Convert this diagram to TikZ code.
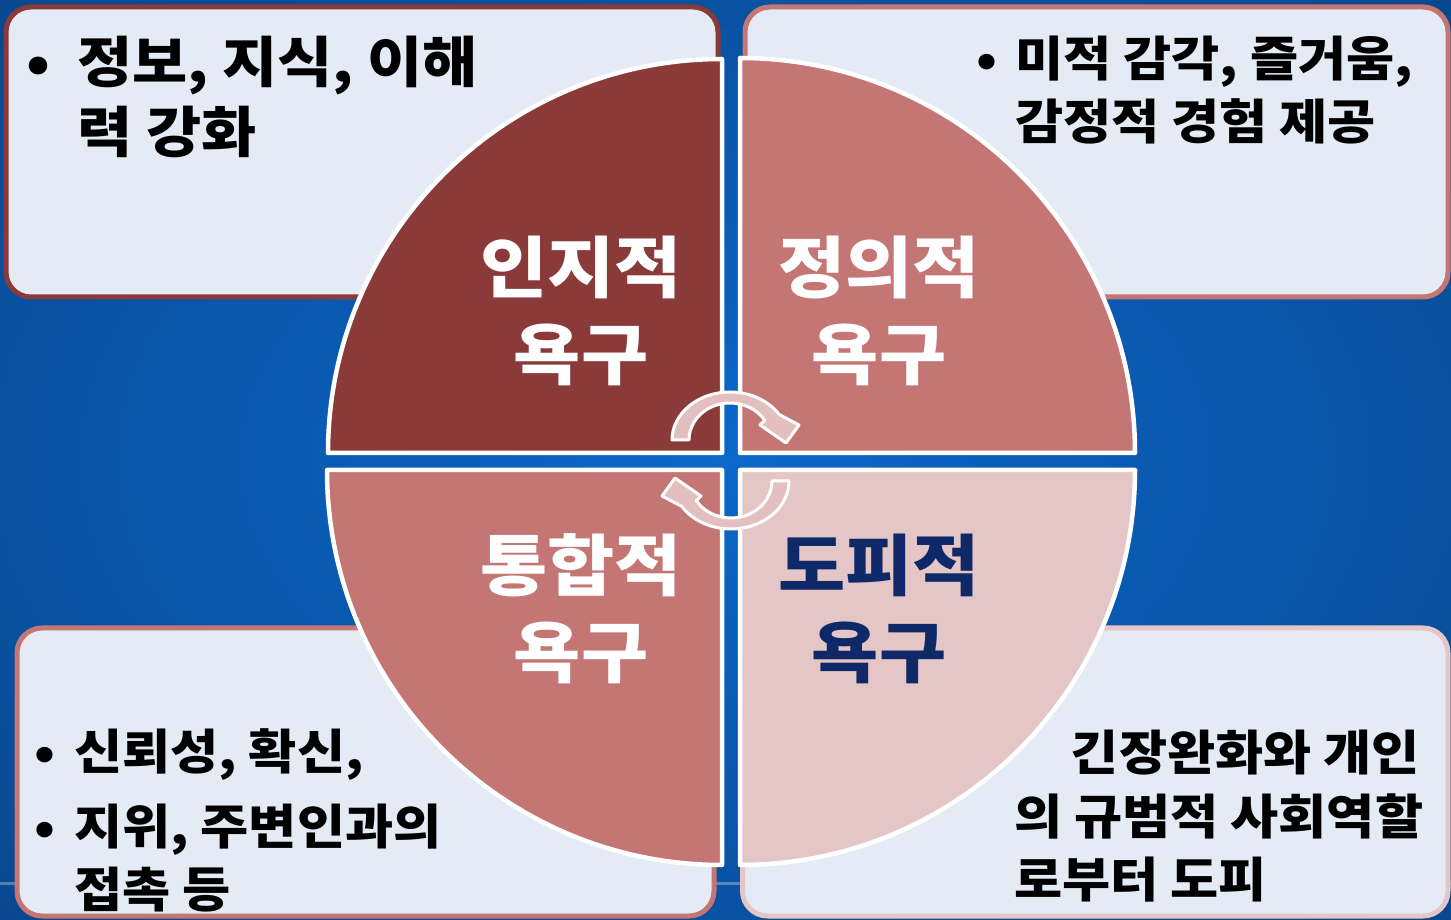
\documentclass[tikz,border=0pt]{standalone}
\usepackage{fontspec}
\setmainfont{Noto Sans CJK KR}[FakeStretch=1.09, BoldFeatures={FakeStretch=1.09}]
\definecolor{bgin}{HTML}{0B67CA}
\definecolor{bgout}{HTML}{073B78}
\definecolor{boxfill}{HTML}{E4EBF4}
\definecolor{qdark}{HTML}{8B3A3A}
\definecolor{qmid}{HTML}{C47674}
\definecolor{qlight}{HTML}{E5C6C6}
\definecolor{qnavy}{HTML}{0E2868}
\definecolor{arrowfill}{HTML}{E3BFBF}
\pgfdeclareradialshading{bgshade}{\pgfpoint{0bp}{0bp}}{color(0bp)=(bgin); color(50bp)=(bgout)}
\begin{document}
\begin{tikzpicture}[x=1pt,y=1pt,
  infobox/.style={fill=boxfill, line width=5pt, rounded corners=25pt},
  quarter/.style={draw=white, line width=4.5pt, line join=round},
  qlabel/.style={font=\fontsize{67}{80}\selectfont\bfseries, anchor=base, inner sep=0pt},
  bodytext/.style={font=\fontsize{48}{58}\selectfont\bfseries, anchor=base west, inner sep=0pt, text=black},
  bigbody/.style={bodytext, font=\fontsize{55}{66}\selectfont\bfseries},
  bulletmark/.style={bodytext, anchor=base},
  cyclearrow/.style={fill=arrowfill, draw=white, line width=3pt, line join=round}]
\useasboundingbox (0,0) rectangle (1451,919);
\shade[shading=bgshade] (0,0) rectangle (1451,919);
\draw[white, opacity=0.3, line width=3pt] (0,36) -- (1451,36);

% corner boxes
\draw[infobox, draw=qdark] (6,622) rectangle (718,912);
\draw[infobox, draw=qmid] (745,622) rectangle (1448,912);
\draw[infobox, draw=qmid] (17,3) rectangle (714,291);
\draw[infobox, draw=qlight] (742.5,3) rectangle (1448,291);

% quarters
\draw[quarter, fill=qdark] (722,466) -- ++(-394,0) arc[start angle=180, end angle=90, radius=394] -- cycle;
\draw[quarter, fill=qmid] (740,466) -- ++(395,0) arc[start angle=0, end angle=90, radius=395] -- cycle;
\draw[quarter, fill=qmid] (722,449) -- ++(-395,0) arc[start angle=180, end angle=270, radius=395] -- cycle;
\draw[quarter, fill=qlight] (740,449) -- ++(395,0) arc[start angle=0, end angle=-90, radius=395] -- cycle;

% quarter labels
\node[qlabel, text=white] (q1a) at (581,626) {인지적};
\node[qlabel, text=white] (q1b) at (581,539) {욕구};
\node[qlabel, text=white] (q2a) at (879,626) {정의적};
\node[qlabel, text=white] (q2b) at (879,539) {욕구};
\node[qlabel, text=white] (q3a) at (581,328) {통합적};
\node[qlabel, text=white] (q3b) at (581,241) {욕구};
\node[qlabel, text=qnavy] (q4a) at (879,328) {도피적};
\node[qlabel, text=qnavy] (q4b) at (879,241) {욕구};

% box texts
\node[bulletmark, font=\fontsize{55}{66}\selectfont\bfseries] (b1) at (38,836) {•};
\node[bigbody] (t1a) at (77,836) {정보, 지식, 이해};
\node[bigbody] (t1b) at (77,766) {력 강화};

\node[bulletmark] (b2) at (987,842) {•};
\node[bodytext] (t2a) at (1015,842) {미적 감각, 즐거움,};
\node[bodytext] (t2b) at (1015,779) {감정적 경험 제공};

\node[bulletmark] (b3) at (45,150) {•};
\node[bodytext] (t3a) at (74,150) {신뢰성, 확신,};
\node[bulletmark] (b4) at (45,75) {•};
\node[bodytext] (t3b) at (74,75) {지위, 주변인과의};
\node[bodytext] (t3c) at (74,12) {접촉 등};

\node[bodytext, anchor=base east] (t4a) at (1420,149) {긴장완화와 개인};
\node[bodytext] (t4b) at (1014,85) {의 규범적 사회역할};
\node[bodytext] (t4c) at (1014,22) {로부터 도피};

% circular arrows
\begin{scope}[shift={(730,479)}]
\draw[cyclearrow] (180:58 and 48) arc[start angle=180, end angle=32, x radius=58, y radius=48]
  -- (69,15) -- (56,-3) -- (30,15) -- (32:41 and 37)
  arc[start angle=32, end angle=180, x radius=41, y radius=37] -- cycle;
\end{scope}
\begin{scope}[rotate around={180:(730.5,458.5)}, shift={(730,479)}]
\draw[cyclearrow] (180:58 and 48) arc[start angle=180, end angle=32, x radius=58, y radius=48]
  -- (69,15) -- (56,-3) -- (30,15) -- (32:41 and 37)
  arc[start angle=32, end angle=180, x radius=41, y radius=37] -- cycle;
\end{scope}
\end{tikzpicture}
\end{document}
